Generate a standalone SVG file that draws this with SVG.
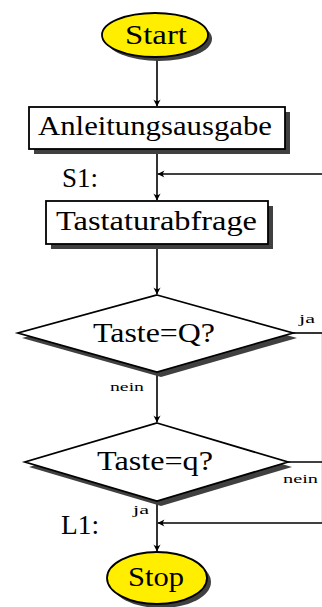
<svg xmlns="http://www.w3.org/2000/svg" width="322" height="607" viewBox="0 0 322 607">
  <style>
    .shadow { fill: #404040; stroke: none; }
    .term { fill: #ffee00; stroke: #000; stroke-width: 1.8; }
    .box { fill: #fff; stroke: #000; stroke-width: 1.8; }
    .lbl { font-family: "Liberation Serif", "DejaVu Serif", serif; fill: #000; }
    .big { font-size: 27px; }
    .small { font-size: 12px; }
    .wire { fill: none; stroke: #000; stroke-width: 1.6; }
  </style>
  <defs>
    <marker id="arr" viewBox="-8 -5 10 10" refX="0" refY="0" markerWidth="10" markerHeight="10" markerUnits="userSpaceOnUse" orient="auto">
      <path d="M0.5,0 L-6.5,-3.6 Q-3.5,0 -6.5,3.6 Z" fill="#000"/>
    </marker>
  </defs>

  <!-- connectors and their labels -->
  <g id="connectors">
    <path class="wire" d="M157,57 V106" marker-end="url(#arr)"/>
    <path class="wire" d="M157,149 V200" marker-end="url(#arr)"/>
    <path class="wire" d="M322,174 H158" marker-end="url(#arr)"/>
    <path class="wire" d="M157,244 V294" marker-end="url(#arr)"/>
    <path class="wire" d="M293,333 H322"/>
    <path class="wire" d="M157,372 V422" marker-end="url(#arr)"/>
    <path class="wire" d="M288,462 H322"/>
    <path class="wire" d="M157,501 V551" marker-end="url(#arr)"/>
    <path class="wire" d="M322,523 H158" marker-end="url(#arr)"/>
    <path d="M321.5,333 V523" stroke="#000" stroke-width="1" opacity="0.1" fill="none"/>
    <text class="lbl small" x="299" y="323" textLength="16" lengthAdjust="spacingAndGlyphs">ja</text>
    <text class="lbl small" x="110" y="391" textLength="34" lengthAdjust="spacingAndGlyphs">nein</text>
    <text class="lbl small" x="283" y="483" textLength="35" lengthAdjust="spacingAndGlyphs">nein</text>
    <text class="lbl small" x="133" y="514" textLength="16" lengthAdjust="spacingAndGlyphs">ja</text>
    <text class="lbl big" x="62" y="187" textLength="36" lengthAdjust="spacingAndGlyphs">S1:</text>
    <text class="lbl big" x="61" y="534" textLength="38" lengthAdjust="spacingAndGlyphs">L1:</text>
  </g>

  <g id="start">
    <ellipse class="shadow" cx="159" cy="39" rx="53" ry="22"/>
    <ellipse class="term" cx="155" cy="35" rx="53" ry="22"/>
    <text class="lbl big" x="125" y="44" textLength="62" lengthAdjust="spacingAndGlyphs">Start</text>
  </g>

  <g id="anleitungsausgabe">
    <rect class="shadow" x="34" y="112" width="256" height="42"/>
    <rect class="box" x="29" y="107" width="256" height="42"/>
    <text class="lbl big" x="38" y="135" textLength="234" lengthAdjust="spacingAndGlyphs">Anleitungsausgabe</text>
  </g>

  <g id="tastaturabfrage">
    <rect class="shadow" x="51" y="206" width="222" height="43"/>
    <rect class="box" x="46" y="201" width="222" height="43"/>
    <text class="lbl big" x="56" y="230" textLength="201" lengthAdjust="spacingAndGlyphs">Tastaturabfrage</text>
  </g>

  <g id="taste-Q">
    <polygon class="shadow" points="161,300 297,338 161,377 22,338"/>
    <polygon class="box" points="157,295 293,333 157,372 18,333"/>
    <text class="lbl big" x="93" y="342" textLength="122" lengthAdjust="spacingAndGlyphs">Taste=Q?</text>
  </g>

  <g id="taste-q">
    <polygon class="shadow" points="161,428 292,467 161,506 29,467"/>
    <polygon class="box" points="157,423 288,462 157,501 25,462"/>
    <text class="lbl big" x="97" y="470" textLength="116" lengthAdjust="spacingAndGlyphs">Taste=q?</text>
  </g>

  <g id="stop">
    <ellipse class="shadow" cx="161" cy="582" rx="50" ry="26"/>
    <ellipse class="term" cx="157" cy="578" rx="50" ry="26"/>
    <text class="lbl big" x="128" y="586" textLength="56" lengthAdjust="spacingAndGlyphs">Stop</text>
  </g>
</svg>
